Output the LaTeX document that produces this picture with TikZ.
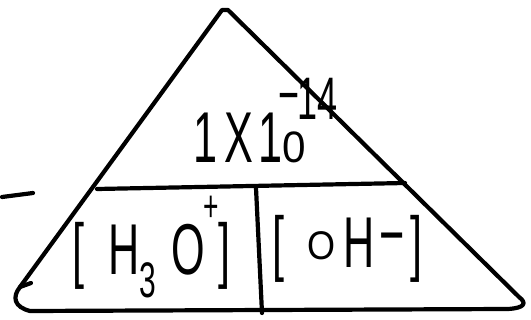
\documentclass[tikz,border=0pt]{standalone}
\usepackage{fontspec}
\setmainfont{Liberation Sans}
\usepackage{graphicx}
\newcommand{\fs}[1]{\fontsize{#1}{#1}\selectfont}
\tikzset{
  ink/.style={line width=4.2pt, line cap=round, line join=round, draw=black},
  hand/.style={inner sep=0pt, anchor=base west, font=\fs{72}}
}
\begin{document}
\begin{tikzpicture}[x=1pt,y=-1pt]
\useasboundingbox (0,0) rectangle (531,320);
% triangle
\coordinate (apexL) at (222,10);
\coordinate (apexR) at (228,10);
\coordinate (bl) at (20,287);
\coordinate (br) at (519,297);
\draw[ink] (apexR) -- (apexL) -- (bl)
  .. controls (12,297) and (14,307) .. (30,311)
  -- (508,309) .. controls (525,308) and (527,303) .. (br) -- (apexR);
\draw[ink] (bl) -- (31,283);
% dividers
\coordinate (hl) at (97,189);
\coordinate (hr) at (405,183);
\draw[ink] (hl) -- (hr);
\coordinate (vt) at (256,188);
\coordinate (vb) at (262,313);
\draw[ink] (vt) -- (vb);
% stray dash at the left
\coordinate (d1) at (2,197);
\coordinate (d2) at (33,193);
\draw[ink] (d1) -- (d2);
% texts
\node[hand] (kw) at (193,163) {\scalebox{0.6}[1]{1\hspace{13pt}X\hspace{8pt}1\scalebox{1.6}[1]{\fs{44}0}\kern-46pt\raisebox{47pt}{\fs{60}−}\hspace{-3pt}\raisebox{43pt}{\fs{60}14}}};
\node[hand] (h3o) at (72,275) {\scalebox{0.6}[1]{[\hspace{41pt}H\raisebox{-23pt}{\fs{50}3}\hspace{25pt}O\kern-3pt\raisebox{53pt}{\fs{44}+}\hspace{0pt}]}};
\node[hand] (oh) at (272,268) {\scalebox{0.6}[1]{[\hspace{38pt}\raisebox{8pt}{\scalebox{1.5}[1]{\fs{40}O}}\hspace{14pt}H\hspace{7.5pt}\raisebox{8pt}{−}\hspace{10pt}]}};
\end{tikzpicture}
\end{document}
